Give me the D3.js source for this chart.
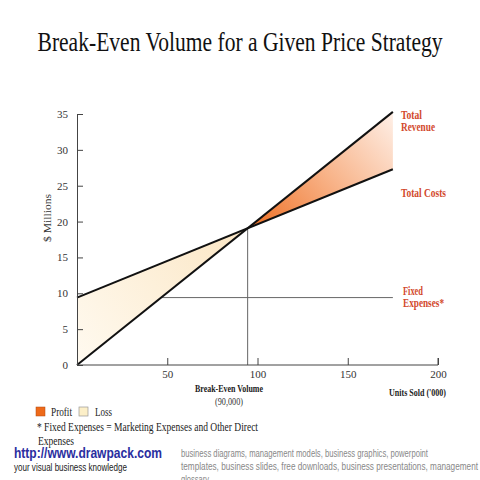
<!DOCTYPE html>
<html lang="en">
  <head>
    <meta charset="utf-8">
    <title>Break-Even Volume</title>
    <style>
      body { margin: 0; background: #fff; }
      svg { display: block; }
    </style>
  </head>
  <body>
    <svg id="chart" width="480" height="480"></svg>
  </body>
  <script src="https://d3js.org/d3.v7.min.js"></script>
  <script>
    // data ($ millions vs units sold in '000)
    let lineUnits = [0, 175]
    let revenue = [0, 35.3]
    let totalCosts = [9.4, 27.3]
    let fixedExpenses = 9.4
    let xTicks = [50, 100, 150, 200]
    let yTicks = [0, 5, 10, 15, 20, 25, 30, 35]

    let svg = d3.select("#chart")
    let serif = "'Liberation Serif', 'Times New Roman', serif"
    let sans = "'Liberation Sans', Arial, sans-serif"

    let x = d3.scaleLinear().domain([0, 200]).range([77, 438])
    let y = d3.scaleLinear().domain([0, 35]).range([365, 114])

    // straight lines through the two end points
    let rSlope = (revenue[1] - revenue[0]) / (lineUnits[1] - lineUnits[0])
    let cSlope = (totalCosts[1] - totalCosts[0]) / (lineUnits[1] - lineUnits[0])
    let rev = u => revenue[0] + rSlope * (u - lineUnits[0])
    let breakEven = (totalCosts[0] - revenue[0]) / (rSlope - cSlope)
    let fixedStart = (fixedExpenses - revenue[0]) / rSlope

    let defs = svg.append("defs")
    let gp = defs.append("linearGradient").attr("id", "profitGrad")
      .attr("gradientUnits", "userSpaceOnUse")
      .attr("x1", x(breakEven)).attr("y1", y(rev(breakEven)))
      .attr("x2", x(lineUnits[1])).attr("y2", y(revenue[1]) - 10)
    gp.append("stop").attr("offset", 0).attr("stop-color", "#ee6e22")
    gp.append("stop").attr("offset", 0.5).attr("stop-color", "#f8b48a")
    gp.append("stop").attr("offset", 1).attr("stop-color", "#fff4ee")

    let gl = defs.append("linearGradient").attr("id", "lossGrad")
      .attr("gradientUnits", "userSpaceOnUse")
      .attr("x1", x(0)).attr("y1", y(0))
      .attr("x2", x(breakEven)).attr("y2", y(rev(breakEven)))
    gl.append("stop").attr("offset", 0).attr("stop-color", "#fffaf0")
    gl.append("stop").attr("offset", 1).attr("stop-color", "#fbe6c4")

    let area = d3.line().x(d => x(d[0])).y(d => y(d[1]))

    // loss region
    svg.append("path")
      .attr("d", area([[0, revenue[0]], [breakEven, rev(breakEven)], [0, totalCosts[0]]]) + "Z")
      .attr("fill", "url(#lossGrad)")

    // profit region
    svg.append("path")
      .attr("d", area([[breakEven, rev(breakEven)], [lineUnits[1], revenue[1]], [lineUnits[1], totalCosts[1]]]) + "Z")
      .attr("fill", "url(#profitGrad)")

    // fixed expenses and break-even guides
    svg.append("line")
      .attr("x1", x(fixedStart)).attr("x2", x(lineUnits[1]))
      .attr("y1", y(fixedExpenses)).attr("y2", y(fixedExpenses))
      .attr("stroke", "#666").attr("stroke-width", 1)
    svg.append("line")
      .attr("x1", x(breakEven)).attr("x2", x(breakEven))
      .attr("y1", y(rev(breakEven))).attr("y2", y(0))
      .attr("stroke", "#666").attr("stroke-width", 1)

    // revenue and cost lines
    svg.append("path")
      .attr("d", area(lineUnits.map((u, i) => [u, revenue[i]])))
      .attr("stroke", "#111").attr("stroke-width", 2).attr("fill", "none")
    svg.append("path")
      .attr("d", area(lineUnits.map((u, i) => [u, totalCosts[i]])))
      .attr("stroke", "#111").attr("stroke-width", 2).attr("fill", "none")

    // axes
    let yAxis = d3.axisLeft(y).tickValues(yTicks).tickSizeInner(-6).tickSizeOuter(0).tickPadding(9)
    svg.append("g").attr("transform", "translate(77,0)").call(yAxis)
    let xAxis = d3.axisBottom(x).tickValues(xTicks).tickSizeInner(-7).tickSizeOuter(0).tickPadding(5)
    let gx = svg.append("g").attr("transform", "translate(0,365)").call(xAxis)
    svg.selectAll(".domain, .tick line").attr("stroke", "#444")
    svg.selectAll(".tick text").attr("font-family", serif).attr("font-size", 11).attr("fill", "#333")
    // x axis line starts at the origin
    gx.select(".domain").attr("d", "M" + x(0) + ",0H" + x(200) + "V-7")

    // fitted text helper
    function label(txt, px, py, size, width, opts) {
      opts = opts || {}
      let t = svg.append("text").attr("x", px).attr("y", py)
        .attr("font-family", opts.family || serif).attr("font-size", size)
        .attr("fill", opts.fill || "#222").text(txt)
      if (opts.anchor) t.attr("text-anchor", opts.anchor)
      if (opts.bold) t.attr("font-weight", "bold")
      if (width) t.attr("textLength", width).attr("lengthAdjust", "spacingAndGlyphs")
      return t
    }

    // title
    label("Break-Even Volume for a Given Price Strategy", 240, 51, 27, 405, { anchor: "middle", fill: "#111" })

    svg.append("text").attr("transform", "translate(51,218) rotate(-90)")
      .attr("text-anchor", "middle").attr("font-family", serif).attr("font-size", 10).attr("fill", "#333")
      .attr("textLength", 48).attr("lengthAdjust", "spacingAndGlyphs")
      .text("$ Millions")

    label("Break-Even Volume", 229, 392, 10.5, 68, { anchor: "middle", bold: true })
    label("(90,000)", 229, 405, 10.5, 28, { anchor: "middle", fill: "#333" })
    label("Units Sold ('000)", 446, 396, 10.5, 57, { anchor: "end", bold: true })

    // line labels
    let red = "#d2492c"
    let lineLabels = [
      ["Total", 401, 119, 21], ["Revenue", 401, 131, 34],
      ["Total Costs", 401, 197, 45],
      ["Fixed", 403, 295, 20], ["Expenses*", 403, 307, 41]
    ]
    lineLabels.forEach(d => label(d[0], d[1], d[2], 13, d[3], { bold: true, fill: red }))

    // legend
    svg.append("rect").attr("x", 36).attr("y", 407).attr("width", 9).attr("height", 9)
      .attr("fill", "#ee6a1a").attr("stroke", "#b04a10").attr("stroke-width", 0.5)
    label("Profit", 51, 416, 13, 21)
    svg.append("rect").attr("x", 79).attr("y", 407).attr("width", 9).attr("height", 9)
      .attr("fill", "#fcefc8").attr("stroke", "#999").attr("stroke-width", 0.7)
    label("Loss", 95, 416, 13, 17)
    label("* Fixed Expenses = Marketing Expenses and Other Direct", 37, 431, 13, 221)
    label("Expenses", 38, 445, 13, 36)

    // footer
    label("http://www.drawpack.com", 14, 458, 15, 148, { family: sans, fill: "#2a2ea0", bold: true })
    label("your visual business knowledge", 14, 471, 10, 113, { family: sans })
    let footer = [
      ["business diagrams, management models, business graphics, powerpoint", 247],
      ["templates, business slides, free downloads, business presentations, management", 297],
      ["glossary", 28]
    ]
    footer.forEach((d, i) => label(d[0], 181, 457 + i * 13, 10, d[1], { family: sans, fill: "#888" }))
  </script>
</html>
